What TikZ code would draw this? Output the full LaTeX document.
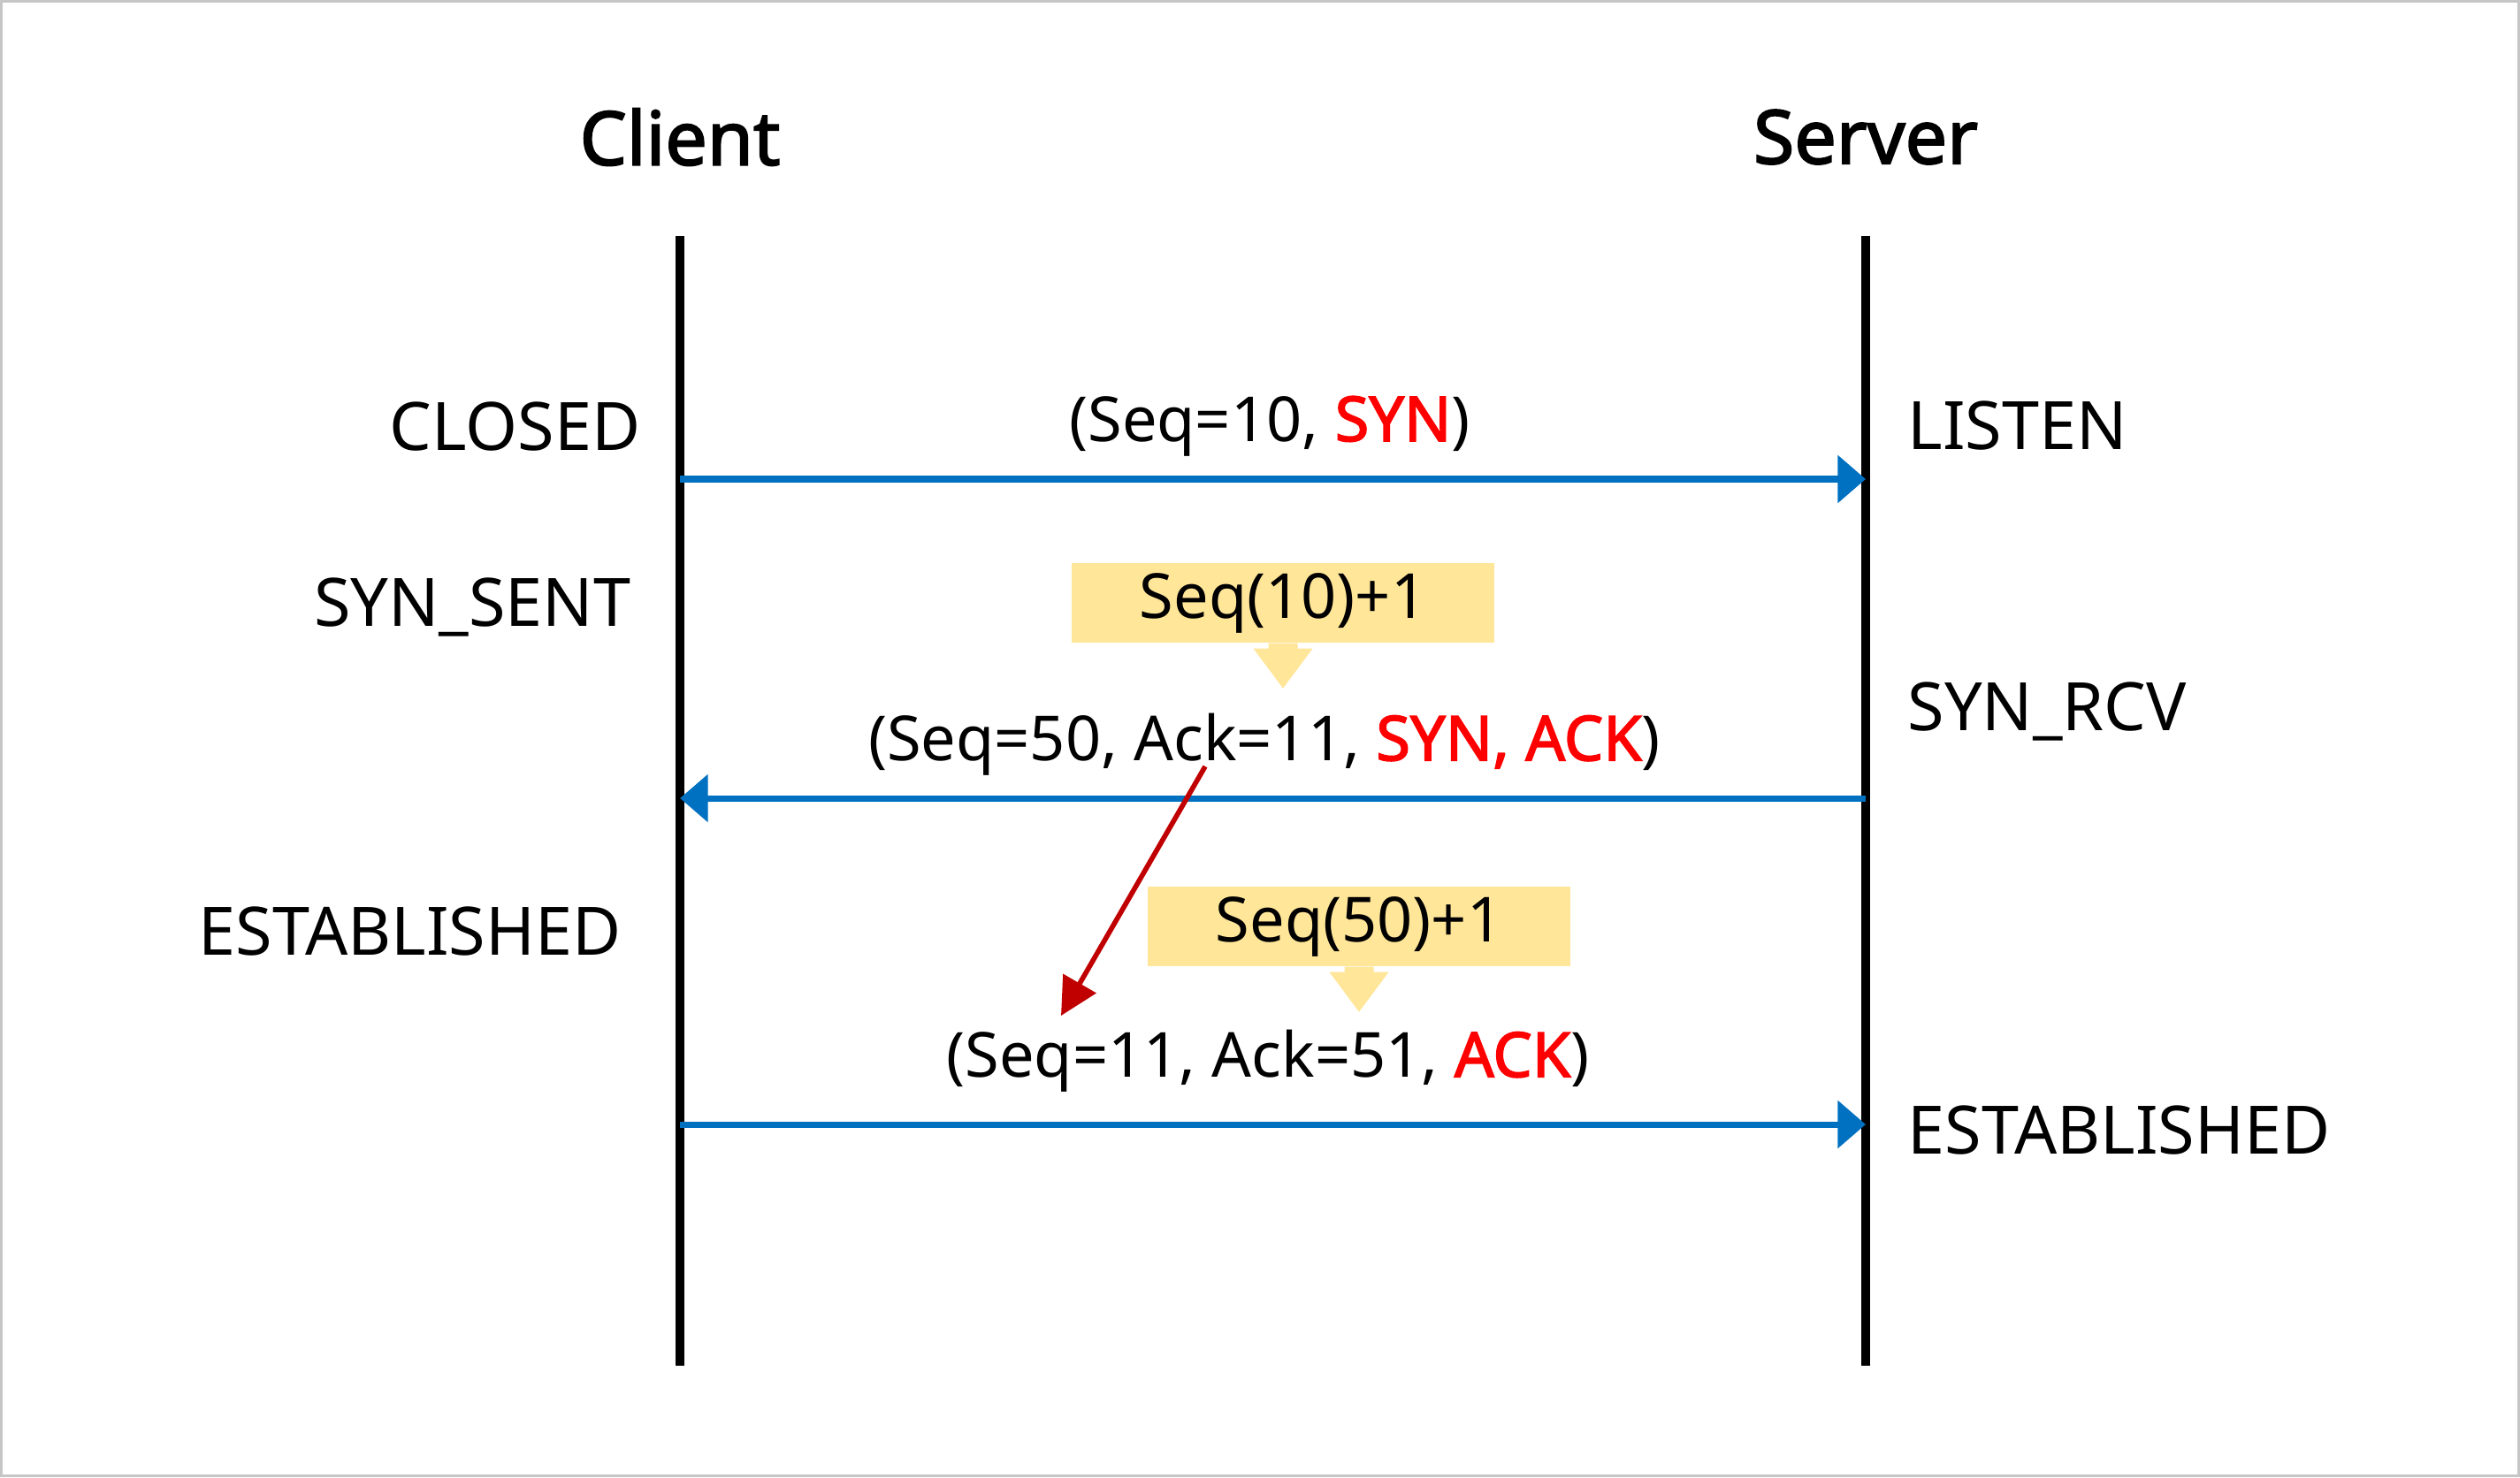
\documentclass[tikz,border=0pt]{standalone}
\usepackage{fontspec}
\setmainfont{Noto Sans}[AutoFakeBold=2.2]
\usetikzlibrary{arrows.meta}
\definecolor{msgblue}{RGB}{0,112,192}
\definecolor{flagred}{RGB}{255,0,0}
\definecolor{calcred}{RGB}{192,0,0}
\definecolor{notefill}{RGB}{255,230,153}

\begin{document}
\begin{tikzpicture}[
		title/.style={font=\fontsize{24}{28}\selectfont\bfseries},
		state/.style={font=\fontsize{21.5}{26}\selectfont, inner sep=0pt},
		msg/.style={font=\fontsize{20}{24}\selectfont, inner sep=0pt},
		note/.style={fill=notefill, minimum width=4.78cm, minimum height=0.9cm, inner sep=0pt, font=\fontsize{20}{24}\selectfont},
		lifeline/.style={line width=3.1pt},
		packet/.style={msgblue, line width=2pt, -{Triangle[length=9pt,width=15pt]}},
		pointer/.style={notefill}
	]
		\useasboundingbox (0,0) rectangle (28.5,-16.71);
		\draw[gray!45, line width=0.03cm] (0.015,-0.015) rectangle (28.485,-16.695);
		% hosts and lifelines
		\node[title] (client) at (7.69,-1.55) {Client};
		\node[title] (server) at (21.10,-1.55) {Server};
		\coordinate (c-top) at (7.69,-2.67);
		\coordinate (c-bot) at (7.69,-15.45);
		\coordinate (s-top) at (21.10,-2.67);
		\coordinate (s-bot) at (21.10,-15.45);
		\draw[lifeline] (c-top) -- (c-bot);
		\draw[lifeline] (s-top) -- (s-bot);
		% states
		\node[state, anchor=east] (closed) at (7.25,-4.82) {CLOSED};
		\node[state, anchor=east] (synsent) at (7.14,-6.87) {SYN\_SENT};
		\node[state, anchor=east] (estc) at (7.03,-10.54) {ESTABLISHED};
		\node[state, anchor=west] (listen) at (21.57,-4.82) {LISTEN};
		\node[state, anchor=west] (synrcv) at (21.57,-8.05) {SYN\_RCV};
		\node[state, anchor=west] (ests) at (21.57,-12.78) {ESTABLISHED};
		% segments
		\coordinate (c1) at (7.69,-5.42);
		\coordinate (s1) at (21.10,-5.42);
		\coordinate (s2) at (21.10,-9.03);
		\coordinate (c2) at (7.69,-9.03);
		\coordinate (c3) at (7.69,-12.72);
		\coordinate (s3) at (21.10,-12.72);
		\draw[packet] (c1) -- (s1);
		\draw[packet] (s2) -- (c2);
		\draw[packet] (c3) -- (s3);
		\node[msg] (syn) at (14.36,-4.82) {(Seq=10, \textcolor{flagred}{\bfseries SYN})};
		\node[msg] (synack) at (14.30,-8.42) {(Seq=50, Ack=11, \textcolor{flagred}{\bfseries SYN, ACK})};
		\node[msg] (ack) at (14.34,-12.00) {(Seq=11, Ack=51, \textcolor{flagred}{\bfseries ACK})};
		% sequence notes
		\node[note] (seq10) at (14.51,-6.82) {Seq(10)+1};
		\fill[pointer] (seq10.south) ++(-0.165,0) -- ++(0,-0.06) -- ++(-0.17,0) -- ++(0.335,-0.45)
			-- ++(0.335,0.45) -- ++(-0.17,0) -- ++(0,0.06) -- cycle;
		\node[note] (seq50) at (15.37,-10.48) {Seq(50)+1};
		\fill[pointer] (seq50.south) ++(-0.165,0) -- ++(0,-0.06) -- ++(-0.17,0) -- ++(0.335,-0.45)
			-- ++(0.335,0.45) -- ++(-0.17,0) -- ++(0,0.06) -- cycle;
		\coordinate (ack-from) at (13.63,-8.67);
		\coordinate (ack-to) at (12.00,-11.49);
		\draw[calcred, line width=1.6pt, -{Triangle[length=12pt,width=12pt]}] (ack-from) -- (ack-to);
	\end{tikzpicture}
\end{document}
